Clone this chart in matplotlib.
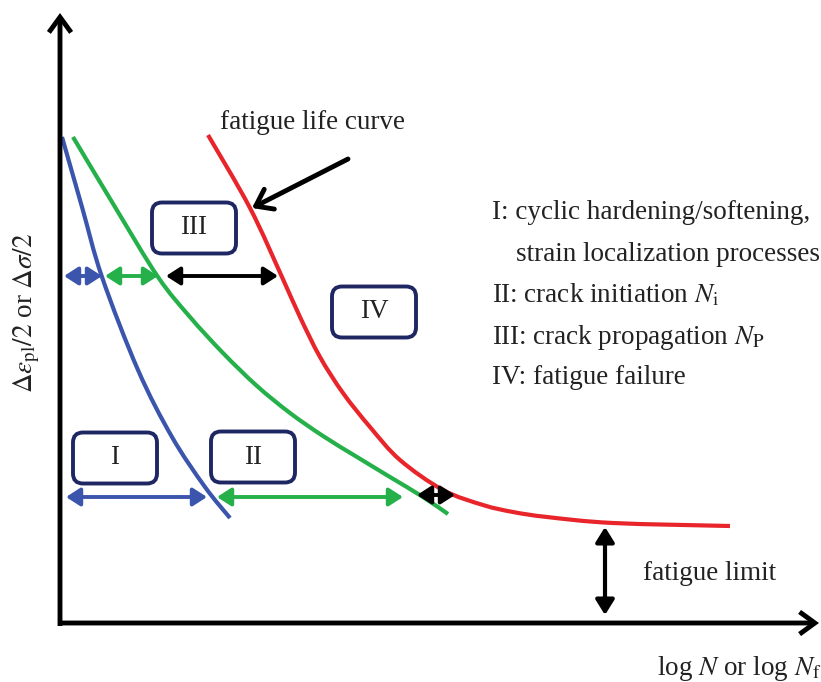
import numpy as np
import matplotlib
matplotlib.use("Agg")
import matplotlib.pyplot as plt
from matplotlib.path import Path
from matplotlib.patches import PathPatch, FancyArrowPatch, FancyBboxPatch

# ---------------- data (diagram units = reference pixels, y downward) ----------------
blue_x = [62, 82, 102, 138, 172, 205, 230]
blue_y = [137, 207, 277, 370, 437, 487, 518]

green_x = [73, 115, 158, 190, 223, 257, 290, 323, 357, 390, 423, 448]
green_y = [137, 207, 277, 317, 353, 386, 413, 436, 457, 477, 497, 514]

red_x = [208, 250, 282, 300, 320, 343, 370, 400, 443, 483, 513, 547, 613, 730]
red_y = [135, 208, 277, 317, 357, 393, 427, 460, 490, 505, 512, 517, 523, 526]

# horizontal double arrows: (x_start, x_end, y, colour-name)
arrow_x0 = [64, 105, 166, 66, 217, 417]
arrow_x1 = [102, 158, 278, 207, 403, 455]
arrow_y = [276, 276, 276, 497, 497, 495]
arrow_c = ["blue", "green", "black", "blue", "green", "black"]

# region boxes: label, centre x, centre y
box_labels = ["I", "II", "III", "IV"]
box_cx = [115, 253, 194, 374]
box_cy = [458, 457, 228, 312]

legend_lines = [
    "I: cyclic hardening/softening,",
    "strain localization processes",
    r"II: crack initiation $N_{\mathrm{i}}$",
    r"III: crack propagation $N_{\mathrm{P}}$",
    "IV: fatigue failure",
]
legend_x = [492, 516, 492, 492, 492]
legend_y = [219, 261, 302, 344, 384]

colors = {"blue": "#3b55ad", "green": "#25b04a", "red": "#e8252b",
          "black": "#000000", "navy": "#1f2763"}

# ---------------- figure ----------------
plt.rcParams["mathtext.fontset"] = "stix"
plt.rcParams["font.family"] = ["Liberation Serif", "DejaVu Serif"]

W, H = 821, 682
fig = plt.figure(figsize=(W / 100, H / 100), dpi=100)
ax = fig.add_axes([0, 0, 1, 1])
ax.set_xlim(0, W)
ax.set_ylim(H, 0)
ax.axis("off")

FS = 19.5


def smooth_path(xs, ys):
    p = np.column_stack([xs, ys]).astype(float)
    ext = np.vstack([p[0], p, p[-1]])
    verts = [p[0]]
    codes = [Path.MOVETO]
    for i in range(1, len(ext) - 2):
        p0, p1, p2, p3 = ext[i - 1], ext[i], ext[i + 1], ext[i + 2]
        c1 = p1 + (p2 - p0) / 6.0
        c2 = p2 - (p3 - p1) / 6.0
        verts += [c1, c2, p2]
        codes += [Path.CURVE4] * 3
    return Path(verts, codes)


for xs, ys, c in [(blue_x, blue_y, "blue"), (green_x, green_y, "green"),
                  (red_x, red_y, "red")]:
    ax.add_patch(PathPatch(smooth_path(xs, ys), fill=False, edgecolor=colors[c],
                           lw=3.0, capstyle="butt", zorder=3))

# axes with open arrow heads
ax.add_patch(FancyArrowPatch((60, 626), (60, 13), arrowstyle="->,head_length=0.55,head_width=0.4",
                             mutation_scale=20, lw=3.5, color="black", shrinkA=0, shrinkB=0,
                             joinstyle="miter", capstyle="butt", zorder=4))
ax.add_patch(FancyArrowPatch((58, 623), (819, 623), arrowstyle="->,head_length=0.55,head_width=0.4",
                             mutation_scale=20, lw=3.5, color="black", shrinkA=0, shrinkB=0,
                             joinstyle="miter", capstyle="butt", zorder=4))

# double arrows
for x0, x1, y, c in zip(arrow_x0, arrow_x1, arrow_y, arrow_c):
    ax.add_patch(FancyArrowPatch((x0, y), (x1, y),
                                 arrowstyle="<|-|>,head_length=0.42,head_width=0.27",
                                 mutation_scale=20, lw=2.8, color=colors[c],
                                 shrinkA=0, shrinkB=0, zorder=5))

# fatigue limit arrow
ax.add_patch(FancyArrowPatch((605, 527), (605, 615),
                             arrowstyle="<|-|>,head_length=0.45,head_width=0.28",
                             mutation_scale=20, lw=3.0, color="black",
                             shrinkA=0, shrinkB=0, zorder=5))

# fatigue life curve pointer
ax.add_patch(FancyArrowPatch((348, 159), (252, 208),
                             arrowstyle="->,head_length=0.55,head_width=0.4",
                             mutation_scale=20, lw=3.5, color="black",
                             shrinkA=0, shrinkB=0, zorder=5))

# boxes
bw, bh = 84, 51
for lab, cx, cy in zip(box_labels, box_cx, box_cy):
    ax.add_patch(FancyBboxPatch((cx - bw / 2 + 8, cy - bh / 2 + 8), bw - 16, bh - 16,
                                boxstyle="round,pad=8,rounding_size=10",
                                facecolor="white", edgecolor=colors["navy"], lw=2.8, zorder=6))
    ax.text(cx, cy, lab, ha="center", va="center", fontsize=FS, color="#222222", zorder=7)

# texts
ax.text(220, 129, "fatigue life curve", ha="left", va="baseline", fontsize=FS, color="#222222")
ax.text(643, 580, "fatigue limit", ha="left", va="baseline", fontsize=FS, color="#222222")
ax.text(657, 675, r"log $N$ or log $N_{\mathrm{f}}$", ha="left", va="baseline",
        fontsize=FS, color="#222222")
ax.text(27, 313, r"$\Delta\varepsilon_{\mathrm{pl}}/2$ or $\Delta\sigma/2$", rotation=90,
        ha="center", va="center", fontsize=FS, color="#222222")

for s, x, y in zip(legend_lines, legend_x, legend_y):
    ax.text(x, y, s, ha="left", va="baseline", fontsize=FS, color="#222222")

fig.savefig("out.png", dpi=100)
